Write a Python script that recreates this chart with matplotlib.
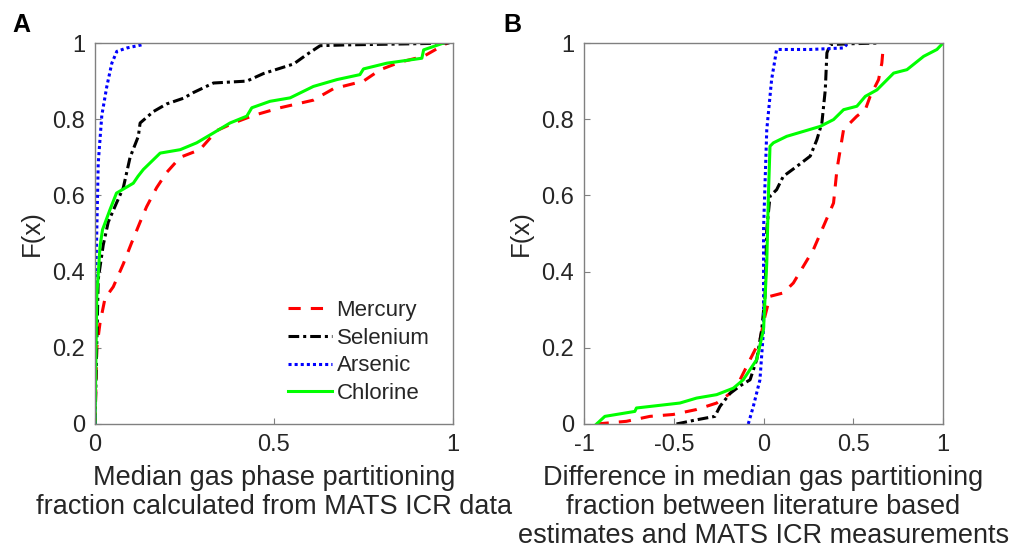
import matplotlib
matplotlib.use('Agg')
import matplotlib.pyplot as plt
from matplotlib.ticker import FuncFormatter

plt.rcParams['font.family'] = ['Liberation Sans', 'DejaVu Sans']

# panel A: CDF of median gas phase partitioning fraction
a_hg_x = [0, 0.005, 0.014, 0.028, 0.051, 0.079, 0.102, 0.126, 0.144, 0.172, 0.2, 0.238, 0.293,
          0.34, 0.387, 0.443, 0.517, 0.61, 0.666, 0.75, 0.797, 0.853, 0.918, 0.974, 0.985]
a_hg_y = [0, 0.2, 0.265, 0.33, 0.36, 0.42, 0.475, 0.53, 0.57, 0.62, 0.66, 0.70, 0.72,
          0.77, 0.79, 0.81, 0.83, 0.85, 0.88, 0.90, 0.93, 0.95, 0.965, 0.995, 1.0]
a_se_x = [0, 0.009, 0.023, 0.037, 0.06, 0.079, 0.098, 0.121, 0.126, 0.163, 0.2, 0.247, 0.275,
          0.331, 0.424, 0.471, 0.555, 0.592, 0.629, 0.7, 0.89, 0.99]
a_se_y = [0, 0.38, 0.47, 0.53, 0.58, 0.62, 0.70, 0.755, 0.79, 0.82, 0.84, 0.855, 0.87,
          0.895, 0.90, 0.92, 0.945, 0.97, 0.993, 0.995, 0.998, 1.0]
a_as_x = [0, 0.003, 0.009, 0.019, 0.033, 0.047, 0.061, 0.089, 0.135]
a_as_y = [0, 0.42, 0.685, 0.81, 0.886, 0.947, 0.978, 0.987, 0.996]
a_cl_x = [0, 0.005, 0.014, 0.021, 0.042, 0.06, 0.107, 0.12, 0.135, 0.182, 0.238, 0.284, 0.331,
          0.377, 0.424, 0.438, 0.489, 0.545, 0.61, 0.676, 0.74, 0.75, 0.815, 0.913, 0.918, 0.974]
a_cl_y = [0, 0.335, 0.466, 0.51, 0.563, 0.606, 0.632, 0.65, 0.668, 0.711, 0.72, 0.738, 0.764,
          0.79, 0.808, 0.83, 0.847, 0.856, 0.886, 0.904, 0.917, 0.932, 0.947, 0.96, 0.982, 1.0]

# panel B: CDF of difference literature - MATS ICR
b_hg_x = [-0.93, -0.764, -0.633, -0.503, -0.373, -0.261, -0.187, -0.131, -0.075, -0.02, 0.008,
          0.036, 0.11, 0.166, 0.222, 0.278, 0.334, 0.39, 0.409, 0.446, 0.52, 0.567, 0.594,
          0.641, 0.659, 0.669]
b_hg_y = [0, 0.007, 0.02, 0.025, 0.038, 0.055, 0.08, 0.116, 0.169, 0.22, 0.283,
          0.335, 0.344, 0.37, 0.414, 0.458, 0.519, 0.58, 0.668, 0.773, 0.808, 0.825, 0.86,
          0.904, 0.947, 1.0]
b_se_x = [-0.485, -0.373, -0.271, -0.243, -0.187, -0.131, -0.075, -0.038, -0.01, 0.008, 0.018,
          0.036, 0.073, 0.11, 0.185, 0.26, 0.297, 0.325, 0.344, 0.353, 0.371, 0.483, 0.65]
b_se_y = [0, 0.011, 0.02, 0.046, 0.08, 0.1, 0.116, 0.169, 0.248, 0.335, 0.51,
          0.598, 0.615, 0.65, 0.676, 0.703, 0.746, 0.79, 0.877, 0.974, 0.996, 0.998, 1.0]
b_as_x = [-0.085, -0.057, -0.02, 0, 0, 0.018, 0.045, 0.073, 0.259, 0.445, 0.464]
b_as_y = [0, 0.046, 0.116, 0.248, 0.51, 0.772, 0.904, 0.983, 0.983, 0.987, 0.996]
b_cl_x = [-0.93, -0.884, -0.717, -0.708, -0.596, -0.466, -0.373, -0.261, -0.168, -0.113, -0.075,
          -0.038, 0, 0.018, 0.027, 0.036, 0.055, 0.129, 0.222, 0.315, 0.39, 0.446, 0.52, 0.567,
          0.632, 0.725, 0.799, 0.892, 0.966, 1.0]
b_cl_y = [0, 0.02, 0.033, 0.042, 0.048, 0.055, 0.068, 0.077, 0.094, 0.116, 0.143,
          0.169, 0.248, 0.423, 0.598, 0.729, 0.738, 0.755, 0.768, 0.781, 0.799, 0.825, 0.834, 0.86,
          0.877, 0.921, 0.93, 0.965, 0.983, 1.0]

labels = ['Mercury', 'Selenium', 'Arsenic', 'Chlorine']
colors = ['#ff0000', '#000000', '#0000ff', '#00ff00']
styles = [(0, (4, 3.3)), (0, (3.5, 1.3, 1, 1.3)), (0, (1, 1)), '-']

txt = '#262626'
spine = '#808080'


def style_ax(ax, xlim, xticks):
    ax.set_xlim(xlim)
    ax.set_ylim(0, 1)
    ax.set_xticks(xticks)
    ax.set_yticks([0, 0.2, 0.4, 0.6, 0.8, 1])
    fmt = FuncFormatter(lambda v, p: '%g' % round(v, 2))
    ax.xaxis.set_major_formatter(fmt)
    ax.yaxis.set_major_formatter(fmt)
    ax.tick_params(direction='in', length=4, width=0.8, color=spine,
                   labelsize=17, labelcolor=txt, pad=7)
    for s in ax.spines.values():
        s.set_color(spine)
        s.set_linewidth(1)
    ax.set_ylabel('F(x)', fontsize=18.5, color=txt, labelpad=6)


fig = plt.figure(figsize=(10.15, 5.57), dpi=100)
ax1 = fig.add_axes([0.0936, 0.2388, 0.3527, 0.684])
ax2 = fig.add_axes([0.5754, 0.2388, 0.3537, 0.684])

a_data = [(a_hg_x, a_hg_y), (a_se_x, a_se_y), (a_as_x, a_as_y), (a_cl_x, a_cl_y)]
b_data = [(b_hg_x, b_hg_y), (b_se_x, b_se_y), (b_as_x, b_as_y), (b_cl_x, b_cl_y)]

for (x, y), lab, c, ls in zip(a_data, labels, colors, styles):
    ax1.plot(x, y, color=c, linestyle=ls, linewidth=2.2, label=lab)
for (x, y), lab, c, ls in zip(b_data, labels, colors, styles):
    ax2.plot(x, y, color=c, linestyle=ls, linewidth=2.2, label=lab)

style_ax(ax1, (0, 1), [0, 0.5, 1])
style_ax(ax2, (-1, 1), [-1, -0.5, 0, 0.5, 1])

ax1.set_xlabel('Median gas phase partitioning\nfraction calculated from MATS ICR data',
               fontsize=19.5, color=txt, labelpad=7, linespacing=1.15)
ax2.set_xlabel('Difference in median gas partitioning\nfraction between literature based\n'
               'estimates and MATS ICR measurements', fontsize=19.5, color=txt, labelpad=7,
               linespacing=1.15)

leg = ax1.legend(loc='lower right', frameon=False, fontsize=16, handlelength=2.0,
                 handletextpad=0.2, labelspacing=0.3, bbox_to_anchor=(0.99, 0.0))
for t in leg.get_texts():
    t.set_color(txt)

fig.text(0.012, 0.943, 'A', fontsize=18, fontweight='bold')
fig.text(0.496, 0.943, 'B', fontsize=18, fontweight='bold')

fig.savefig('out.png', dpi=100)
